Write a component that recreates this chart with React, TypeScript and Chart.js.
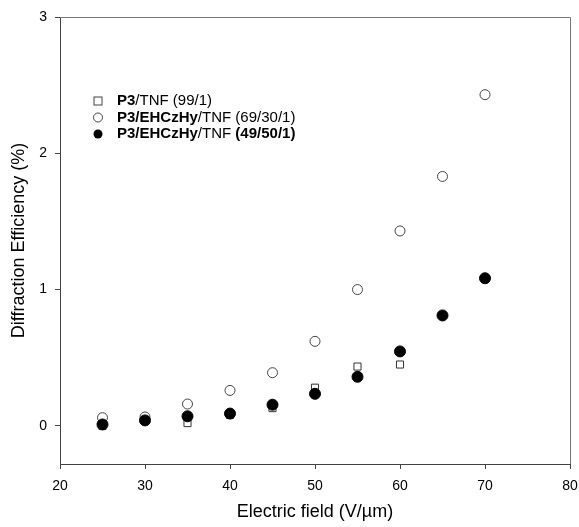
import React, { useEffect, useRef } from "react";
import { Chart, registerables } from "chart.js";

Chart.register(...registerables);

const fieldValues = [25, 30, 35, 40, 45, 50, 55, 60, 65, 70];
const p3Tnf = [0.0, 0.04, 0.02, 0.08, 0.13, 0.28, 0.435, 0.45];
const p3EhczhyTnf69 = [0.06, 0.065, 0.16, 0.26, 0.39, 0.62, 1.0, 1.43, 1.83, 2.43];
const p3EhczhyTnf49 = [0.01, 0.04, 0.07, 0.09, 0.155, 0.235, 0.36, 0.546, 0.81, 1.083];
const yTicks = [0, 1, 2, 3];

const legendEntries = [
  { marker: "square", parts: [["P3", true], ["/TNF (99/1)", false]] },
  { marker: "open", parts: [["P3/EHCzHy", true], ["/TNF (69/30/1)", false]] },
  { marker: "filled", parts: [["P3/EHCzHy", true], ["/TNF ", false], ["(49/50/1)", true]] },
];

const FONT = "'Liberation Sans', Arial, sans-serif";

const toPoints = (ys: number[]) => ys.map((y, i) => ({ x: fieldValues[i], y }));

export default function App() {
  const ref = useRef<HTMLCanvasElement | null>(null);
  useEffect(() => {
    document.body.style.margin = "0";
    const canvas = ref.current;
    if (!canvas) return;

    const framePlugin = {
      id: "frame",
      afterDraw(chart: any) {
        const { ctx, chartArea: a } = chart;
        ctx.save();
        ctx.lineWidth = 1;
        ctx.strokeStyle = "#777";
        ctx.beginPath();
        ctx.moveTo(a.left, a.top + 0.5);
        ctx.lineTo(a.right + 0.5, a.top + 0.5);
        ctx.lineTo(a.right + 0.5, a.bottom);
        ctx.stroke();
        // legend
        const lx = a.left + 38;
        const tx = a.left + 57;
        let ly = a.top + 84;
        for (const e of legendEntries) {
          ctx.lineWidth = 1;
          ctx.strokeStyle = "#444";
          ctx.fillStyle = "#000";
          if (e.marker === "square") {
            ctx.strokeRect(lx - 4, ly - 4, 8, 8);
          } else {
            ctx.beginPath();
            ctx.arc(lx, ly, 4.5, 0, Math.PI * 2);
            if (e.marker === "filled") ctx.fill();
            else ctx.stroke();
          }
          let x = tx;
          ctx.textBaseline = "middle";
          ctx.fillStyle = "#000";
          for (const [t, b] of e.parts as [string, boolean][]) {
            ctx.font = (b ? "bold " : "") + "15px " + FONT;
            ctx.fillText(t, x, ly);
            x += ctx.measureText(t).width;
          }
          ly += 16.5;
        }
        ctx.restore();
      },
    };

    const chart = new Chart(canvas, {
      type: "scatter",
      data: {
        datasets: [
          {
            label: "P3/TNF (99/1)",
            data: toPoints(p3Tnf),
            pointStyle: "rect",
            pointRadius: 5,
            backgroundColor: "#fff",
            borderColor: "#333",
            borderWidth: 1,
            order: 1,
          },
          {
            label: "P3/EHCzHy/TNF (69/30/1)",
            data: toPoints(p3EhczhyTnf69),
            pointStyle: "circle",
            pointRadius: 5,
            backgroundColor: "#fff",
            borderColor: "#444",
            borderWidth: 1,
            order: 2,
          },
          {
            label: "P3/EHCzHy/TNF (49/50/1)",
            data: toPoints(p3EhczhyTnf49),
            pointStyle: "circle",
            pointRadius: 5.5,
            backgroundColor: "#000",
            borderColor: "#000",
            borderWidth: 1,
            order: 0,
          },
        ],
      },
      options: {
        animation: false,
        responsive: false,
        layout: { padding: { top: 17, right: 9, left: 0, bottom: 0 } },
        plugins: { legend: { display: false }, tooltip: { enabled: false } },
        scales: {
          x: {
            type: "linear",
            min: 20,
            max: 80,
            ticks: { stepSize: 10, color: "#000", font: { family: FONT, size: 14 }, padding: 9 },
            grid: { drawOnChartArea: false, drawTicks: true, tickLength: 5, color: "#444" },
            border: { display: true, color: "#444" },
            title: {
              display: true,
              text: "Electric field (V/\u00b5m)",
              color: "#000",
              font: { family: FONT, size: 18 },
              padding: { top: 10 },
            },
            afterFit(scale: any) {
              scale.height = 63;
              scale.paddingLeft = 0;
              scale.paddingRight = 0;
            },
          },
          y: {
            type: "linear",
            min: -0.28,
            max: 3,
            afterBuildTicks(scale: any) {
              scale.ticks = yTicks.map((v) => ({ value: v }));
            },
            ticks: { color: "#000", font: { family: FONT, size: 14 }, padding: 8 },
            grid: { drawOnChartArea: false, drawTicks: true, tickLength: 5, color: "#444" },
            border: { display: true, color: "#444" },
            title: {
              display: true,
              text: "Diffraction Efficiency (%)",
              color: "#000",
              font: { family: FONT, size: 18 },
              padding: { bottom: 4, top: 8 },
            },
            afterFit(scale: any) {
              scale.width = 60;
              scale.paddingTop = 0;
              scale.paddingBottom = 0;
            },
          },
        },
      },
      plugins: [framePlugin],
    });
    return () => chart.destroy();
  }, []);
  return (
    <div style={{ width: 579, height: 527, background: "#fff" }}>
      <canvas ref={ref} width={579} height={527} style={{ display: "block" }} />
    </div>
  );
}
